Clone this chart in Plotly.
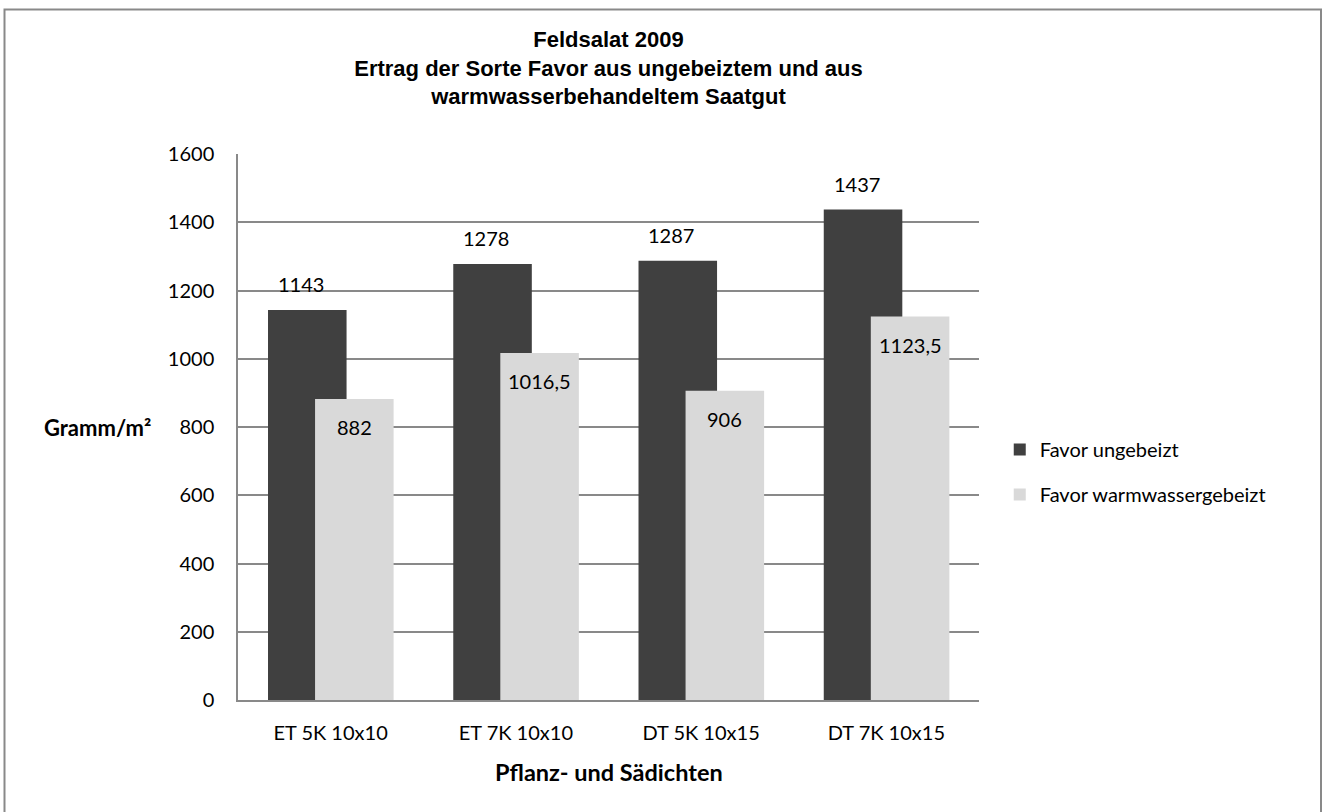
import plotly.graph_objects as go

categories = ["ET 5K 10x10", "ET 7K 10x10", "DT 5K 10x15", "DT 7K 10x15"]
ungebeizt = [1143, 1278, 1287, 1437]
warmwasser = [882, 1016.5, 906, 1123.5]
series_names = ["Favor ungebeizt", "Favor warmwassergebeizt"]
y_ticks = [0, 200, 400, 600, 800, 1000, 1200, 1400, 1600]


def fmt(v):
    s = ("%g" % v)
    return s.replace(".", ",")


FONT = "Lato"
GRID = "#898989"
DARK = "#404040"
LIGHT = "#d9d9d9"

x_idx = list(range(len(categories)))

fig = go.Figure()
fig.add_trace(go.Bar(
    x=x_idx, y=ungebeizt, name=series_names[0],
    marker=dict(color=DARK, line=dict(width=0)),
    width=0.424, offset=-0.338, legendgroup="a",
))
fig.add_trace(go.Bar(
    x=x_idx, y=warmwasser, name=series_names[1],
    marker=dict(color=LIGHT, line=dict(width=0)),
    width=0.424, offset=-0.084, legendgroup="b",
))

annotations = []
for i, v in enumerate(ungebeizt):
    annotations.append(dict(x=i - 0.16, y=v, xref="x", yref="y", text=fmt(v),
                            showarrow=False, yanchor="middle", yshift=26,
                            font=dict(family=FONT, size=20, color="#000")))
for i, v in enumerate(warmwasser):
    annotations.append(dict(x=i + 0.128, y=v, xref="x", yref="y", text=fmt(v),
                            showarrow=False, yanchor="middle", yshift=-28,
                            font=dict(family=FONT, size=20, color="#000")))
annotations.append(dict(x=-0.1147, y=0.5, xref="paper", yref="paper", text="<b>Gramm/m²</b>",
                        showarrow=False, xanchor="right", yanchor="middle",
                        font=dict(family=FONT, size=22, color="#000")))
annotations.append(dict(x=0.5, y=-0.132, xref="paper", yref="paper", text="<b>Pflanz- und Sädichten</b>",
                        showarrow=False, xanchor="center", yanchor="middle",
                        font=dict(family=FONT, size=23.5, color="#000")))

fig.update_layout(
    width=1327, height=812,
    margin=dict(l=238, r=348, t=154, b=112, autoexpand=False),
    paper_bgcolor="white", plot_bgcolor="white",
    barmode="overlay",
    title=dict(
        text="<b>Feldsalat 2009<br>Ertrag der Sorte Favor aus ungebeiztem und aus<br>warmwasserbehandeltem Saatgut</b>",
        x=0.5, xref="paper", xanchor="center",
        y=1 - 47 / 812, yref="container", yanchor="top",
        font=dict(family="Liberation Sans, Arial", size=22, color="#000"),
    ),
    xaxis=dict(
        range=[-0.5, 3.5], tickmode="array", tickvals=x_idx, ticktext=categories,
        showgrid=False, showline=True, linecolor=GRID, linewidth=1.5,
        ticks="outside", ticklen=14, tickcolor="rgba(0,0,0,0)",
        tickfont=dict(family=FONT, size=20, color="#000"), zeroline=False,
    ),
    yaxis=dict(
        range=[0, 1600], tickmode="array", tickvals=y_ticks,
        showgrid=True, gridcolor=GRID, gridwidth=1.5,
        showline=True, linecolor=GRID, linewidth=1.5,
        ticks="outside", ticklen=18, tickcolor="rgba(0,0,0,0)",
        tickfont=dict(family=FONT, size=20, color="#000"), zeroline=False,
    ),
    legend=dict(
        x=1.028, y=0.4176, xanchor="left", yanchor="middle",
        font=dict(family=FONT, size=20, color="#000"),
        tracegroupgap=16, bgcolor="rgba(0,0,0,0)",
    ),
    annotations=annotations,
    shapes=[dict(type="rect", xref="paper", yref="paper",
                 x0=(4.5 - 238) / 741, x1=(1321 - 238) / 741,
                 y0=-0.3, y1=(700 - 9.5) / 546,
                 line=dict(color=GRID, width=2), fillcolor="rgba(0,0,0,0)", layer="below")],
    showlegend=True,
)

fig.write_html("out.html", config={"displayModeBar": False},
               post_script="document.body.style.margin='0';document.body.style.overflow='hidden';")
